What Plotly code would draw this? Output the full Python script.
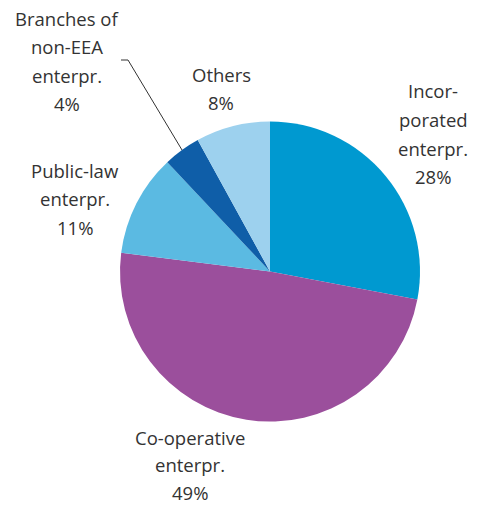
import plotly.graph_objects as go

W, H = 478, 506

categories = ["Incorporated enterpr.", "Co-operative enterpr.", "Public-law enterpr.",
              "Branches of non-EEA enterpr.", "Others"]
values = [28, 49, 11, 4, 8]
colors = ["#0099d0", "#9b4f9c", "#5bbae2", "#0f5ea8", "#9dd1ee"]

label_lines = [
    ["Incor-", "porated", "enterpr.", "28%"],
    ["Co-operative", "enterpr.", "49%"],
    ["Public-law", "enterpr.", "11%"],
    ["Branches of", "non-EEA", "enterpr.", "4%"],
    ["Others", "8%"],
]
# label centre x, first line y and line step in pixels
label_pos = [(433, 91, 28.5), (190, 437, 27.5), (75, 170, 28.5), (67, 18, 28.5), (221, 74, 28.5)]

fig = go.Figure(go.Pie(
    labels=categories, values=values, sort=False, direction="clockwise", rotation=0,
    marker=dict(colors=colors, line=dict(width=0)),
    textinfo="none", hoverinfo="label+percent",
    domain=dict(x=[120 / W, 420 / W], y=[(H - 422) / H, (H - 121) / H]),
    showlegend=False,
))

annotations = []
for lines, (cx, y0, step) in zip(label_lines, label_pos):
    for i, t in enumerate(lines):
        y = y0 + i * step
        annotations.append(dict(
            text=t, x=cx / W, y=1 - y / H, xref="paper", yref="paper",
            xanchor="center", yanchor="middle", showarrow=False, borderpad=0,
            font=dict(family="Open Sans", size=18.5, color="#333333"),
        ))

shapes = [
    dict(type="line", xref="paper", yref="paper",
         x0=121 / W, y0=1 - 60 / H, x1=128 / W, y1=1 - 60 / H,
         line=dict(color="#333333", width=1)),
    dict(type="line", xref="paper", yref="paper",
         x0=128 / W, y0=1 - 60 / H, x1=182 / W, y1=1 - 150 / H,
         line=dict(color="#333333", width=1)),
]

fig.update_layout(
    width=W, height=H, margin=dict(l=0, r=0, t=0, b=0),
    paper_bgcolor="white", plot_bgcolor="white",
    annotations=annotations, shapes=shapes,
)

fig.write_html("out.html")
